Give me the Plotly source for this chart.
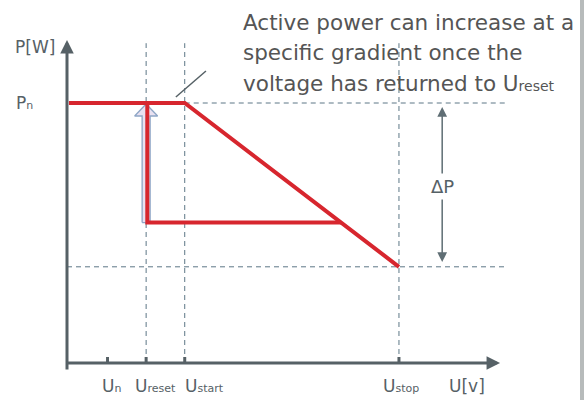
import plotly.graph_objects as go

# Voltage levels on the horizontal axis (arbitrary units)
u_names = ["U", "U", "U", "U"]
u_subs = ["n", "reset", "start", "stop"]
u_values = [1.05, 2.05, 3.05, 8.6]
u_recover = 7.1          # where the reduced level meets the derating slope
u_axis_end = 11.22

# Power levels on the vertical axis (fraction of nominal)
p_nominal = 1.0
p_reduced = 0.54
p_stop = 0.37
p_axis_end = 1.242

Un, Ureset, Ustart, Ustop = u_values

RED = "#d7262e"
AXIS = "#566166"
GUIDE = "#5d7786"
TEXT = "#566166"
FONT = "DejaVu Sans"

# pixel scale helpers for small decoration sizes
PX_U = 38.6
PX_P = 260.0


def low(main, sub, size):
    """Label with a small suffix sitting on the same baseline."""
    return f"{main}<span style='font-size:{size}px'>{sub}</span>"


fig = go.Figure()

# hollow arrow showing the return to nominal power at U_reset
sw, hw, hh = 4 / PX_U, 11.5 / PX_U, 12 / PX_P
tip = p_nominal - 1 / PX_P
fig.add_trace(go.Scatter(
    x=[Ureset - sw, Ureset - sw, Ureset - hw, Ureset, Ureset + hw, Ureset + sw, Ureset + sw, Ureset - sw],
    y=[p_reduced, tip - hh, tip - hh, tip, tip - hh, tip - hh, p_reduced, p_reduced],
    mode="lines", fill="toself", fillcolor="#e9e1f1",
    line=dict(color="#8ea6c6", width=1.3), hoverinfo="skip", showlegend=False))

# derating characteristic
fig.add_trace(go.Scatter(
    x=[0.05, Ustart, Ustop], y=[p_nominal, p_nominal, p_stop],
    mode="lines", line=dict(color=RED, width=4), hoverinfo="skip", showlegend=False))
# recovery path
fig.add_trace(go.Scatter(
    x=[Ureset + 0.03, Ureset + 0.03, u_recover], y=[p_nominal, p_reduced, p_reduced],
    mode="lines", line=dict(color=RED, width=4), hoverinfo="skip", showlegend=False))

dash = "5px,4px"
guide_top = 1.23
shapes = []
for u in (Ureset, Ustart, Ustop):
    shapes.append(dict(type="line", x0=u, x1=u, y0=0, y1=guide_top,
                       line=dict(color=GUIDE, width=1, dash=dash), layer="below"))
shapes.append(dict(type="line", x0=Ustart, x1=11.42, y0=p_nominal, y1=p_nominal,
                   line=dict(color=GUIDE, width=1, dash=dash), layer="below"))
shapes.append(dict(type="line", x0=0, x1=11.37, y0=p_stop, y1=p_stop,
                   line=dict(color=GUIDE, width=1, dash=dash), layer="below"))
# tick marks
for u in u_values:
    shapes.append(dict(type="line", x0=u, x1=u, y0=0, y1=6 / PX_P,
                       line=dict(color=AXIS, width=3)))
# gradient slash
shapes.append(dict(type="line", x0=2.82, x1=3.60, y0=1.023, y1=1.123,
                   line=dict(color=AXIS, width=1.5)))
# right frame edge
shapes.append(dict(type="rect", xref="paper", yref="paper", x0=580 / 584, x1=1, y0=0, y1=1,
                   fillcolor="#b7bbbb", line=dict(width=0)))

annotations = []
# axes with arrowheads
annotations.append(dict(x=0, y=p_axis_end, ax=0, ay=-8 / PX_P, xref="x", yref="y",
                        axref="x", ayref="y", text="", showarrow=True, arrowhead=2,
                        arrowsize=0.9, arrowwidth=3, arrowcolor=AXIS, standoff=0))
annotations.append(dict(x=u_axis_end, y=0, ax=-2 / PX_U, ay=0, xref="x", yref="y",
                        axref="x", ayref="y", text="", showarrow=True, arrowhead=2,
                        arrowsize=0.9, arrowwidth=3, arrowcolor=AXIS, standoff=0))
# delta P arrows
u_dp = 9.72
annotations.append(dict(x=u_dp, y=0.985, ax=u_dp, ay=0.723, xref="x", yref="y",
                        axref="x", ayref="y", text="", showarrow=True, arrowhead=2,
                        arrowsize=1.3, arrowwidth=1.5, arrowcolor="#5f6e74", standoff=0))
annotations.append(dict(x=u_dp, y=0.388, ax=u_dp, ay=0.635, xref="x", yref="y",
                        axref="x", ayref="y", text="", showarrow=True, arrowhead=2,
                        arrowsize=1.3, arrowwidth=1.5, arrowcolor="#5f6e74", standoff=0))
annotations.append(dict(x=u_dp, y=(0.723 + 0.635) / 2, xref="x", yref="y", text="ΔP",
                        showarrow=False, font=dict(family=FONT, size=18, color=TEXT)))

# axis labels
label_font = dict(family=FONT, size=17, color=TEXT)
annotations.append(dict(x=-0.83, y=1.215, xref="x", yref="y", text="P[W]",
                        showarrow=False, font=label_font))
annotations.append(dict(x=-1.11, y=p_nominal, xref="x", yref="y", text=low("P", "n", 11),
                        showarrow=False, font=label_font))
label_x = [Un + 0.1, Ureset + 0.25, Ustart + 0.5, Ustop + 0.05]
for name, sub, lx in zip(u_names, u_subs, label_x):
    annotations.append(dict(x=lx, y=-0.0885, xref="x", yref="y", text=low(name, sub, 11),
                            showarrow=False, font=label_font))
annotations.append(dict(x=10.36, y=-0.0885, xref="x", yref="y", text="U[v]",
                        showarrow=False, font=label_font))

# explanatory note
note = ["Active power can increase at a",
        "specific gradient once the",
        "voltage has returned to " + low("U", "reset", 14)]
for i, line in enumerate(note):
    annotations.append(dict(x=241 / 584, y=1 - (22 + 30.5 * i) / 400, xref="paper", yref="paper",
                            text=line, showarrow=False, xanchor="left", yanchor="middle",
                            font=dict(family=FONT, size=21.5, color="#555555")))

fig.update_layout(
    width=584, height=400,
    margin=dict(l=0, r=0, t=0, b=0),
    paper_bgcolor="white", plot_bgcolor="white",
    xaxis=dict(range=[-67 / PX_U, 517 / PX_U], visible=False, fixedrange=True),
    yaxis=dict(range=[-37 / PX_P, 363 / PX_P], visible=False, fixedrange=True),
    shapes=shapes, annotations=annotations,
)

fig.write_html("out.html")
